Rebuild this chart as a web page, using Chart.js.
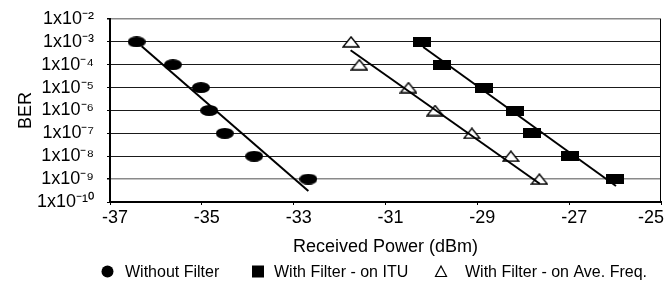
<!DOCTYPE html>
<html>
<head>
<meta charset="utf-8">
<script src="https://cdn.jsdelivr.net/npm/chart.js@4/dist/chart.umd.min.js"></script>
<style>
html,body{margin:0;padding:0;background:#fff;}
canvas{display:block;}
</style>
</head>
<body>
<canvas id="c" width="670" height="284"></canvas>
<script>
// ---------- data ----------
const seriesLabels = ['Without Filter', 'With Filter - on ITU', 'With Filter - on Ave. Freq.'];
const berLevels = [1e-3, 1e-4, 1e-5, 1e-6, 1e-7, 1e-8, 1e-9];
const withoutFilterPower = [-36.42, -35.63, -35.02, -34.84, -34.50, -33.86, -32.68];
const filterItuPower     = [-30.21, -29.76, -28.85, -28.18, -27.82, -26.98, -26.00];
const filterAvePower     = [-31.75, -31.57, -30.50, -29.92, -29.12, -28.27, -27.65];
// fitted trend lines (end points)
const fitWithoutPower = [-36.31, -32.68];
const fitWithoutBer   = [6.5e-4, 3.0e-10];
const fitItuPower     = [-30.18, -25.98];
const fitItuBer       = [6.0e-4, 5.0e-10];
const fitAvePower     = [-31.76, -27.64];
const fitAveBer       = [4.3e-4, 6.3e-10];
const xTickValues = [-37, -35, -33, -31, -29, -27, -25];
const yTickValues = [1e-2, 1e-3, 1e-4, 1e-5, 1e-6, 1e-7, 1e-8, 1e-9, 1e-10];
const xTitle = 'Received Power (dBm)';
const yTitle = 'BER';

// ---------- styles ----------
const FONT = "'Liberation Sans', Arial, Helvetica, sans-serif";
Chart.defaults.font.family = FONT;
Chart.defaults.color = '#000';

const superMap = {'-':'\u207B','0':'\u2070','1':'\u00B9','2':'\u00B2','3':'\u00B3','4':'\u2074','5':'\u2075','6':'\u2076','7':'\u2077','8':'\u2078','9':'\u2079'};
function berLabel(v) {
  const e = Math.round(Math.log10(v));
  return '1x10' + String(e).split('').map(c => superMap[c]).join('');
}

function makeMarker(kind) {
  const sizes = {ellipse: [18, 11], rect: [18, 10], triangle: [18, 12]};
  const [w, h] = sizes[kind];
  const c = document.createElement('canvas');
  c.width = w; c.height = h;
  const g = c.getContext('2d');
  g.fillStyle = '#000';
  if (kind === 'ellipse') {
    g.beginPath(); g.ellipse(w / 2, h / 2, w / 2, h / 2, 0, 0, Math.PI * 2); g.fill();
  } else if (kind === 'rect') {
    g.fillRect(0, 0, w, h);
  } else {
    g.beginPath();
    g.moveTo(w / 2, 1); g.lineTo(w - 1, h - 1); g.lineTo(1, h - 1); g.closePath();
    g.fillStyle = '#fff'; g.fill();
    g.lineWidth = 1.4; g.strokeStyle = '#000'; g.stroke();
  }
  return c;
}
const markerEllipse = makeMarker('ellipse');
const markerRect = makeMarker('rect');
const markerTri = makeMarker('triangle');

const pts = (xs, ys) => xs.map((x, i) => ({x: x, y: ys[i]}));

function markerSet(label, xs, style) {
  return {label: label, data: pts(xs, berLevels), showLine: false, pointStyle: style,
          pointRadius: 6, pointHoverRadius: 6, order: 1, clip: false};
}
function fitSet(label, xs, ys) {
  return {label: label, data: pts(xs, ys), showLine: true, borderColor: '#000', borderWidth: 2,
          pointRadius: 0, pointHoverRadius: 0, order: 0, fill: false};
}

const legendIcons = ['circle', 'rect', 'triangle'];
const customPlugin = {
  id: 'custom',
  afterDraw(chart) {
    const ctx = chart.ctx;
    const a = chart.chartArea;
    ctx.save();
    // right frame line
    ctx.strokeStyle = '#000'; ctx.lineWidth = 1;
    ctx.beginPath(); ctx.moveTo(a.right - 0.5, a.top); ctx.lineTo(a.right - 0.5, a.bottom); ctx.stroke();
    // legend
    const base = chart.scales.x.bottom;
    const cy = base + 13.5;
    const iconX = [107.5, 258, 441];
    const textX = [125, 274, 465];
    ctx.font = '16px ' + FONT;
    ctx.textBaseline = 'middle';
    ctx.textAlign = 'left';
    seriesLabels.forEach((lab, i) => {
      const x = iconX[i];
      ctx.fillStyle = '#000';
      ctx.strokeStyle = '#000';
      if (legendIcons[i] === 'circle') {
        ctx.beginPath(); ctx.arc(x, cy, 6, 0, Math.PI * 2); ctx.fill();
      } else if (legendIcons[i] === 'rect') {
        ctx.fillRect(x - 6, cy - 6, 12, 12);
      } else {
        ctx.lineWidth = 1.2;
        ctx.beginPath(); ctx.moveTo(x, cy - 5.5); ctx.lineTo(x + 5.5, cy + 5); ctx.lineTo(x - 5.5, cy + 5); ctx.closePath(); ctx.stroke();
      }
      ctx.fillStyle = '#000';
      ctx.fillText(lab, textX[i], cy + 1);
    });
    ctx.restore();
  }
};

new Chart(document.getElementById('c'), {
  type: 'scatter',
  data: {
    datasets: [
      fitSet('Without Filter fit', fitWithoutPower, fitWithoutBer),
      fitSet('With Filter - on ITU fit', fitItuPower, fitItuBer),
      fitSet('With Filter - on Ave. Freq. fit', fitAvePower, fitAveBer),
      markerSet(seriesLabels[0], withoutFilterPower, markerEllipse),
      markerSet(seriesLabels[1], filterItuPower, markerRect),
      markerSet(seriesLabels[2], filterAvePower, markerTri)
    ]
  },
  options: {
    responsive: false,
    animation: false,
    layout: {padding: {left: 0, right: 9, top: 19, bottom: 26}},
    plugins: {legend: {display: false}, tooltip: {enabled: false}},
    scales: {
      x: {
        type: 'linear', position: 'bottom', min: -37, max: -25,
        afterBuildTicks: s => { s.ticks = xTickValues.map(v => ({value: v})); },
        afterFit: s => { s.height = 56; s.paddingLeft = 0; s.paddingRight = 0; },
        grid: {drawOnChartArea: false, drawTicks: true, tickLength: 3, color: '#000', tickColor: '#000', lineWidth: 1},
        border: {display: true, color: '#000', width: 2},
        ticks: {
          font: {size: 18}, padding: 2, labelOffset: 5, autoSkip: false, maxRotation: 0,
          callback: (v, i, t) => i === t.length - 1 ? String(v) + '\u00a0'.repeat(6) : String(v)
        },
        title: {display: true, text: xTitle, font: {size: 18}, padding: {top: 0, bottom: 0}}
      },
      y: {
        type: 'logarithmic', position: 'left', min: 1e-10, max: 1e-2,
        afterBuildTicks: s => { s.ticks = yTickValues.map(v => ({value: v})); },
        afterFit: s => { s.width = 110; s.paddingTop = 0; s.paddingBottom = 0; },
        grid: {
          drawTicks: true, tickLength: 3, tickColor: '#000',
          color: c => (c.tick && (c.tick.value === 1e-2 || c.tick.value === 1e-9)) ? '#8a8a8a' : '#1a1a1a',
          lineWidth: c => (c.tick && (c.tick.value === 1e-2 || c.tick.value === 1e-9)) ? 1.6 : 1
        },
        border: {display: true, color: '#000', width: 2},
        ticks: {font: {size: 18}, padding: 13, crossAlign: 'near', autoSkip: false, callback: v => berLabel(v)},
        title: {display: true, text: yTitle, font: {size: 18}, padding: {top: 15, bottom: 0}}
      }
    }
  },
  plugins: [customPlugin]
});
</script>
</body>
</html>
